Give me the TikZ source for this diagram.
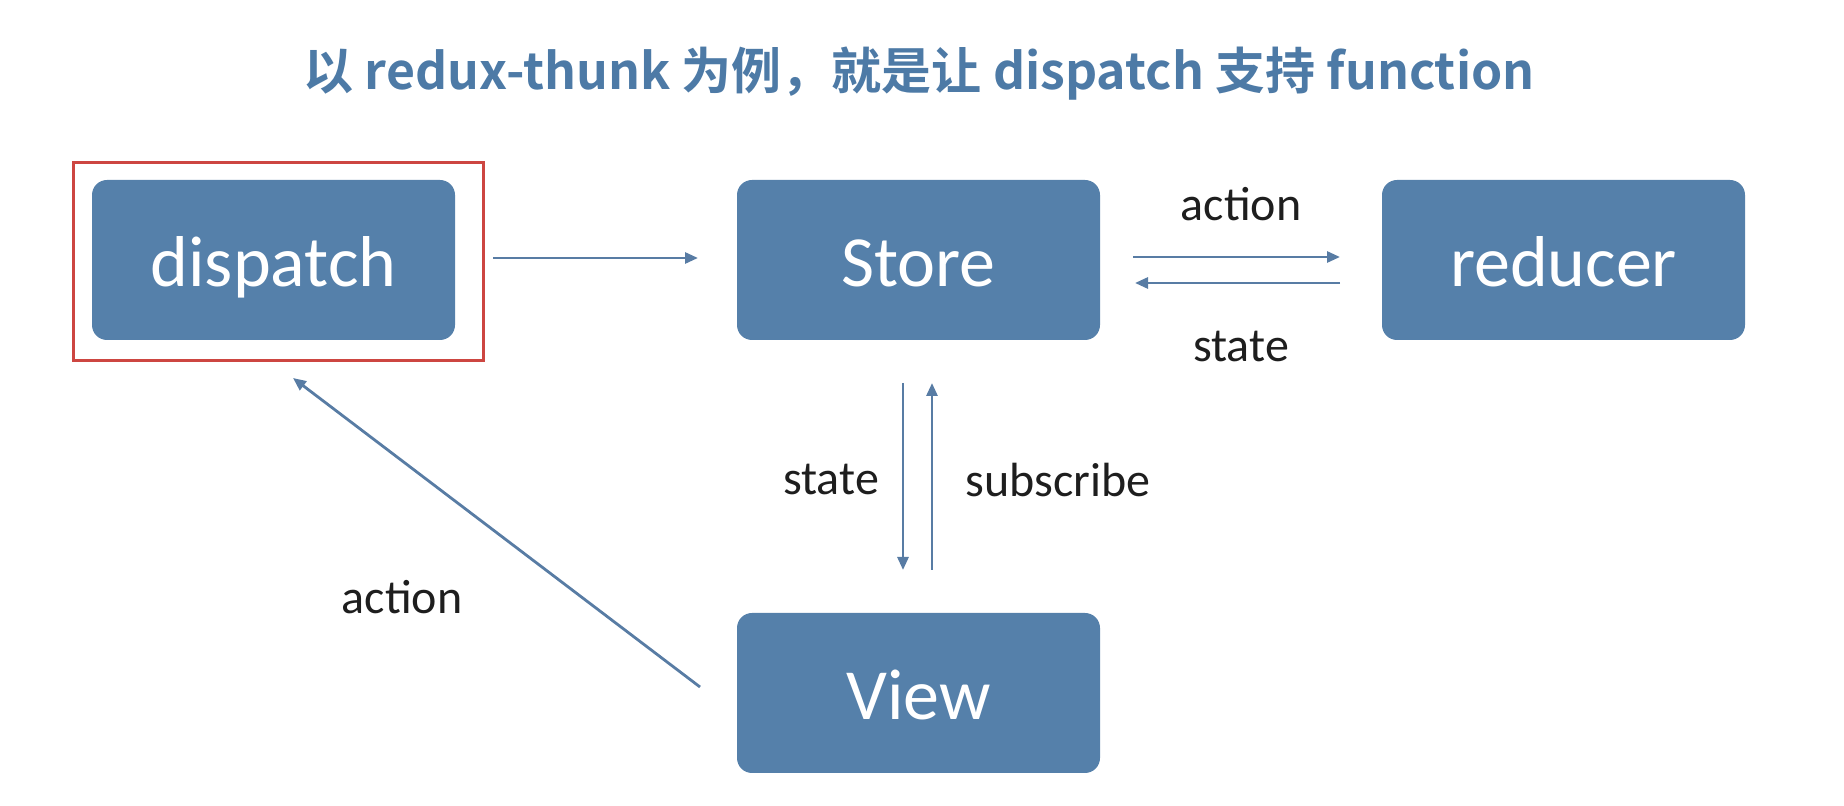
\documentclass[tikz,border=0pt]{standalone}
\usepackage{fontspec}
\setmainfont{Carlito}
\newfontfamily\cjkbold[BoldFont=Noto Sans CJK SC Bold]{Noto Sans CJK SC}
\usetikzlibrary{arrows.meta}
\definecolor{boxblue}{RGB}{85,128,170}
\definecolor{titleblue}{RGB}{77,122,166}
\definecolor{arrowblue}{RGB}{88,124,164}
\definecolor{redline}{RGB}{205,70,65}
\definecolor{labelgray}{RGB}{30,30,30}
\begin{document}
\begin{tikzpicture}[x=0.5pt,y=-0.5pt,
  box/.style={draw=none,fill=boxblue,rounded corners=7.5pt,minimum width=181.5pt,minimum height=80pt,inner sep=0pt,text=white,text height=29pt,text depth=2pt,font=\fontsize{36}{40}\selectfont},
  conn/.style={draw=arrowblue,line width=1.4pt,-{Triangle[length=6.5pt,width=5.5pt]}},
  lbl/.style={text=labelgray,font=\fontsize{24}{28}\selectfont,inner sep=0pt}]
\useasboundingbox (0,0) rectangle (1844,806);
\node[text=titleblue,font=\cjkbold\bfseries\fontsize{25}{30}\selectfont] (title) at (919,74) {以 redux-thunk 为例，就是让 dispatch 支持 function};
\node[box] (dispatch) at (273.5,260) {dispatch};
\node[box] (store) at (918.5,260) {Store};
\node[box] (reducer) at (1563.5,260) {reducer};
\node[box] (view) at (918.5,693) {View};
\node[draw=redline,line width=1.5pt,minimum width=205pt,minimum height=99pt,inner sep=0pt] (hl) at (278.5,262) {};
\coordinate (a1) at (493,258);
\coordinate (a2) at (698,258);
\draw[conn] (a1) -- (a2);
\coordinate (b1) at (1133,257);
\coordinate (b2) at (1340,257);
\draw[conn] (b1) -- (b2);
\coordinate (c1) at (1340,283);
\coordinate (c2) at (1135,283);
\draw[conn] (c1) -- (c2);
\coordinate (d1) at (903,383);
\coordinate (d2) at (903,570);
\draw[conn] (d1) -- (d2);
\coordinate (e1) at (932,570);
\coordinate (e2) at (932,383);
\draw[conn] (e1) -- (e2);
\coordinate (f1) at (700,687);
\coordinate (f2) at (293,378);
\draw[conn] (f1) -- (f2);
\node[lbl] (l1) at (1241,204) {action};
\node[lbl] (l2) at (1241,347) {state};
\node[lbl] (l3) at (831,480) {state};
\node[lbl] (l4) at (1058,480) {subscribe};
\node[lbl] (l5) at (402,597) {action};
\end{tikzpicture}
\end{document}
